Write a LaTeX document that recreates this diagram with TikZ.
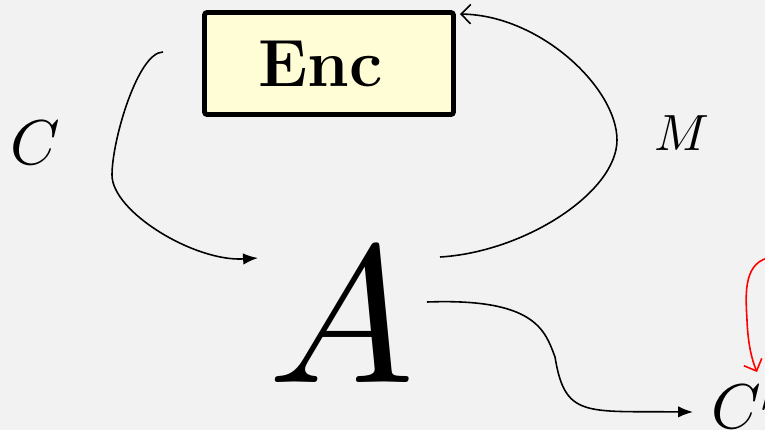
\documentclass[tikz,border=0pt]{standalone}
\usepackage{amsmath,amssymb}
\usepackage{xcolor}
\usepackage{tikz}
\usetikzlibrary{arrows.meta}
\DeclareFontShape{OML}{cmm}{m}{it}{<->cmmi10}{}
\definecolor{bggray}{HTML}{F2F2F2}
\definecolor{encfill}{HTML}{FFFDD6}

\begin{document}
\begin{tikzpicture}[
  x=0.02cm, y=-0.02cm,
  box/.style={rectangle, draw, line width=2.8pt, rounded corners=1.5pt,
              fill=encfill, minimum width=4.98cm, minimum height=2.04cm,
              inner sep=0pt, font=\fontsize{38}{40}\selectfont\bfseries},
  lbl/.style={inner sep=0pt, anchor=base},
  e/.style={line width=0.9pt},
  tip/.style={-{Latex[length=8.5pt,width=6.5pt]}},
  otip/.style={-{Straight Barb[length=5.5pt,width=11pt]}}
]
  % background and page size
  \fill[bggray] (0,0) rectangle (765,430);
  \useasboundingbox (0,0) rectangle (765,430);

  % nodes
  \node[box] (enc) at (329,63.5) {\raisebox{-4pt}{Enc\kern10pt}};
  \node[lbl, font=\fontsize{36}{40}\selectfont] (C) at (35,164) {$C$};
  \node[lbl, font=\fontsize{29}{32}\selectfont] (M) at (682,150) {$M$};
  \node[lbl, font=\fontsize{111}{120}\selectfont] (A) at (342,382) {$A$};
  \node[lbl, anchor=base west, font=\fontsize{36}{40}\selectfont] (Cp) at (711,428) {$C'$};

  % free ends of the connectors
  \coordinate (cin)  at (163,52);
  \coordinate (ain)  at (258,258);
  \coordinate (aup)  at (440,257);
  \coordinate (aout) at (427,302);
  \coordinate (cpin) at (693,412);
  \coordinate (rin)  at (768,258);
  \coordinate (rout) at (757,372);

  \draw[e, tip] (cin) .. controls (138,52) and (112,140) .. (112,175)
                      .. controls (112,212) and (195,262) .. (ain);
  \draw[e, otip] (aup) .. controls (525,252) and (617,192) .. (617,140)
                       .. controls (617,88) and (540,15) .. ([shift={(4,4)}]enc.north east);
  \draw[e, tip] (aout) .. controls (535,298) and (545,330) .. (555,357)
                       .. controls (565,418) and (585,411) .. (cpin);
  \draw[red, line width=0.9pt, otip] (rin) .. controls (742,264) and (746,300) .. (747,320)
                                           .. controls (748,345) and (752,360) .. (rout);
\end{tikzpicture}
\end{document}
